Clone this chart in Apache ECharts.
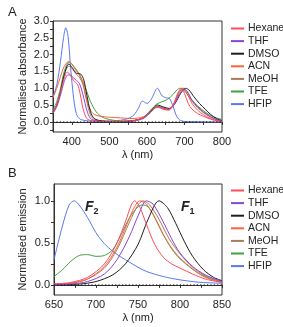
<!DOCTYPE html>
<html><head><meta charset="utf-8">
<script src="https://cdn.jsdelivr.net/npm/echarts@6/dist/echarts.min.js"></script>
<style>html,body{margin:0;padding:0;background:#fff}#c{width:283px;height:327px}</style>
</head><body><div id="c"></div>
<script>
const solvents = ['Hexane','THF','DMSO','ACN','MeOH','TFE','HFIP'];
const colors = ['#ff4a5c','#8a44d8','#1e1e1e','#ff6140','#a87c5c','#3ea23e','#5878f2'];

const absXTicks = [400,500,600,700,800];
const absYTicks = [0,0.5,1,1.5,2,2.5,3];
const emXTicks = [650,700,750,800,850];
const emYTicks = [0,0.5,1];

const absHexane = [[350,0.3],[360,0.5],[370,0.88],[380,1.3],[388,1.48],[396,1.4],[405,1.22],[415,1.12],[422,0.85],[430,0.4],[440,0.1],[455,0.03],[500,0.01],[560,0.03],[590,0.12],[610,0.3],[628,0.44],[645,0.38],[658,0.36],[670,0.5],[682,0.85],[692,1.0],[700,0.85],[710,0.55],[720,0.38],[735,0.25],[750,0.17],[770,0.08],[790,0.02],[800,0.01]];
const absTHF = [[350,0.25],[360,0.45],[370,0.8],[380,1.2],[390,1.4],[398,1.38],[410,1.25],[420,1.15],[430,0.8],[440,0.35],[450,0.1],[465,0.03],[500,0.01],[560,0.02],[590,0.1],[610,0.28],[628,0.45],[645,0.4],[658,0.37],[672,0.5],[685,0.8],[698,0.97],[708,0.9],[720,0.65],[735,0.45],[750,0.3],[770,0.15],[790,0.05],[800,0.02]];
const absDMSO = [[350,0.3],[360,0.5],[370,0.9],[380,1.4],[392,1.72],[402,1.6],[412,1.45],[424,1.42],[432,1.25],[440,0.8],[450,0.3],[460,0.1],[480,0.03],[520,0.01],[560,0.03],[590,0.12],[610,0.32],[628,0.5],[645,0.44],[660,0.4],[675,0.55],[690,0.85],[703,1.0],[712,0.95],[725,0.75],[740,0.55],[755,0.38],[770,0.22],[785,0.1],[800,0.04]];
const absACN = [[350,0.72],[360,1.0],[370,1.35],[380,1.65],[392,1.8],[400,1.72],[410,1.55],[420,1.4],[430,1.15],[440,0.65],[450,0.35],[460,0.22],[475,0.17],[500,0.14],[530,0.12],[560,0.1],[590,0.15],[610,0.3],[628,0.44],[645,0.37],[658,0.35],[672,0.55],[685,0.88],[695,1.0],[705,0.88],[720,0.55],[735,0.35],[750,0.22],[770,0.1],[790,0.03],[800,0.01]];
const absMeOH = [[350,0.28],[360,0.5],[370,0.9],[380,1.4],[392,1.66],[402,1.56],[412,1.42],[420,1.33],[430,1.1],[440,0.6],[450,0.2],[460,0.07],[480,0.02],[520,0.01],[560,0.03],[590,0.12],[610,0.3],[628,0.47],[645,0.42],[658,0.38],[672,0.55],[686,0.88],[697,1.0],[707,0.9],[720,0.62],[735,0.42],[750,0.28],[770,0.14],[790,0.05],[800,0.02]];
const absTFE = [[350,0.35],[360,0.6],[370,1.0],[380,1.5],[393,1.78],[405,1.66],[420,1.42],[435,1.05],[450,0.6],[465,0.3],[480,0.15],[500,0.07],[530,0.03],[560,0.04],[590,0.12],[610,0.35],[625,0.52],[640,0.6],[655,0.67],[670,0.82],[680,0.95],[688,1.0],[698,0.95],[710,0.78],[725,0.58],[745,0.38],[765,0.22],[785,0.12],[800,0.07]];
const absHFIP = [[350,0.75],[360,1.1],[370,1.8],[378,2.5],[384,2.8],[390,2.55],[397,1.6],[405,0.7],[412,0.25],[420,0.1],[435,0.04],[460,0.02],[500,0.03],[530,0.05],[550,0.1],[565,0.2],[578,0.42],[588,0.62],[600,0.55],[612,0.68],[628,1.0],[640,0.78],[650,0.72],[660,0.7],[670,0.45],[680,0.15],[690,0.04],[705,0.01],[800,0]];

const emHexane = [[650,0.01],[670,0.03],[690,0.09],[710,0.25],[725,0.5],[735,0.75],[742,0.95],[746,1.0],[752,0.93],[760,0.72],[770,0.48],[780,0.33],[790,0.25],[800,0.2],[815,0.13],[830,0.07],[850,0.03]];
const emTHF = [[650,0.0],[670,0.01],[690,0.04],[710,0.13],[725,0.3],[740,0.58],[750,0.82],[760,1.0],[768,0.96],[780,0.75],[790,0.55],[800,0.38],[815,0.22],[830,0.12],[850,0.04]];
const emDMSO = [[650,0],[680,0.01],[700,0.04],[720,0.12],[735,0.25],[750,0.48],[762,0.78],[775,1.0],[785,0.92],[795,0.73],[805,0.52],[815,0.34],[828,0.18],[840,0.09],[850,0.05]];
const emACN = [[650,0.01],[670,0.02],[690,0.07],[710,0.22],[725,0.45],[738,0.75],[746,0.93],[752,1.0],[760,0.96],[770,0.8],[780,0.6],[790,0.44],[800,0.32],[815,0.19],[830,0.09],[850,0.03]];
const emMeOH = [[650,0.01],[670,0.02],[690,0.07],[710,0.2],[725,0.42],[740,0.75],[750,0.95],[756,1.0],[764,0.95],[775,0.78],[787,0.55],[800,0.37],[815,0.21],[830,0.11],[850,0.04]];
const emTFE = [[650,0.1],[660,0.18],[670,0.28],[680,0.35],[690,0.36],[700,0.34],[710,0.35],[720,0.42],[730,0.6],[740,0.8],[750,0.93],[755,0.95],[762,0.93],[770,0.8],[780,0.6],[790,0.43],[800,0.31],[820,0.15],[835,0.08],[850,0.03]];
const emHFIP = [[650,0.3],[660,0.7],[668,0.95],[674,1.0],[680,0.95],[690,0.8],[700,0.62],[710,0.49],[720,0.4],[730,0.33],[740,0.27],[750,0.21],[760,0.16],[780,0.1],[800,0.06],[825,0.03],[850,0.02]];

const absData = [absHexane,absTHF,absDMSO,absACN,absMeOH,absTFE,absHFIP];
const emData = [emHexane,emTHF,emDMSO,emACN,emMeOH,emTFE,emHFIP];

const txt = '#222';
const font = 'Liberation Sans, Arial, sans-serif';
function xAxis(idx,min,max,labels,ticks){
  return {type:'value',gridIndex:idx,min:min,max:max,name:'λ (nm)',nameLocation:'middle',nameGap:17,
    nameTextStyle:{color:txt,fontSize:11,fontFamily:font},
    axisLine:{lineStyle:{color:'#333',width:1}},
    axisTick:{customValues:ticks,length:3,lineStyle:{color:'#333'}},
    axisLabel:{customValues:labels,color:txt,fontSize:11,fontFamily:font,margin:4},
    splitLine:{show:false}};
}
function yAxis(idx,min,max,labels,ticks){
  return {type:'value',gridIndex:idx,min:min,max:max,
    axisLine:{lineStyle:{color:'#333',width:1}},
    axisTick:{customValues:ticks,length:3,lineStyle:{color:'#333'}},
    axisLabel:{customValues:labels,color:txt,fontSize:11,fontFamily:font,margin:4,formatter:v=>v.toFixed(1)},
    splitLine:{show:false}};
}
const series = [];
solvents.forEach((s,i)=>{
  series.push({name:s,type:'line',xAxisIndex:0,yAxisIndex:0,data:absData[i],smooth:0.3,showSymbol:false,
    lineStyle:{width:1,color:colors[i]},itemStyle:{color:colors[i]},z:10-i});
  series.push({name:s,type:'line',xAxisIndex:1,yAxisIndex:1,data:emData[i],smooth:0.3,showSymbol:false,
    lineStyle:{width:1,color:colors[i]},itemStyle:{color:colors[i]},z:10-i});
});
series.push({type:'line',xAxisIndex:0,yAxisIndex:0,data:[[350,0],[800,0]],showSymbol:false,silent:true,
  lineStyle:{color:'#111',width:1,type:[1.2,2.2]},z:20});
series.push({type:'line',xAxisIndex:1,yAxisIndex:1,data:[[650,0],[850,0]],showSymbol:false,silent:true,
  lineStyle:{color:'#111',width:1,type:[1.2,2.2]},z:20});

function legend(top){
  return {orient:'vertical',left:231,top:top,itemWidth:13,itemHeight:2,itemGap:1.6,icon:'rect',
    data:solvents,selectedMode:false,textStyle:{color:txt,fontSize:10.5,fontFamily:font,padding:[0,0,0,-1]},padding:0};
}
function yName(text,x,y){
  return {type:'text',x:x,y:y,rotation:Math.PI/2,
    style:{text:text,fill:txt,font:'11px '+font,textAlign:'center',textVerticalAlign:'middle'}};
}
const chart = echarts.init(document.getElementById('c'),null,{renderer:'canvas'});
chart.setOption({
  animation:false,
  backgroundColor:'#fff',
  title:[
    {text:'A',left:3,top:1,textStyle:{fontSize:13,fontWeight:'normal',color:txt,fontFamily:font}},
    {text:'B',left:3,top:162,textStyle:{fontSize:13,fontWeight:'normal',color:txt,fontFamily:font}},
    {text:'{f|F}{s|2}',left:80,top:194,textStyle:{rich:{f:{fontSize:14,fontWeight:'bold',fontStyle:'italic',color:txt,fontFamily:font},s:{fontSize:9,fontWeight:'bold',color:txt,fontFamily:font,padding:[8,0,0,0]}}}},
    {text:'{f|F}{s|1}',left:176,top:194,textStyle:{rich:{f:{fontSize:14,fontWeight:'bold',fontStyle:'italic',color:txt,fontFamily:font},s:{fontSize:9,fontWeight:'bold',color:txt,fontFamily:font,padding:[8,0,0,0]}}}}
  ],
  graphic:[yName('Normalised absorbance',23,76.5),yName('Normalised emission',23,239.5)],
  legend:[legend(23),legend(185)],
  grid:[
    {left:53,top:21,right:61,bottom:195,show:true,borderColor:'#333',borderWidth:1},
    {left:54,top:184,right:61,bottom:32,show:true,borderColor:'#333',borderWidth:1}
  ],
  xAxis:[xAxis(0,350,800,absXTicks,[350,400,450,500,550,600,650,700,750,800]),
         xAxis(1,650,850,emXTicks,[650,675,700,725,750,775,800,825,850])],
  yAxis:[yAxis(0,-0.3,3,absYTicks,[-0.25,0,0.25,0.5,0.75,1,1.25,1.5,1.75,2,2.25,2.5,2.75,3]),
         yAxis(1,-0.12,1.2,emYTicks,[0,0.25,0.5,0.75,1])],
  series:series
});
</script></body></html>
